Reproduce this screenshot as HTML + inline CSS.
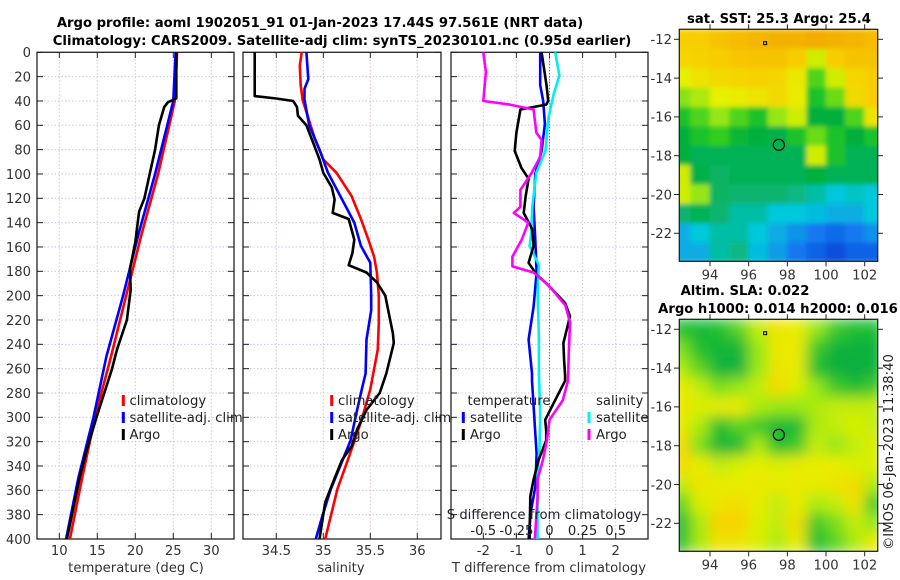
<!DOCTYPE html>
<html><head><meta charset="utf-8"><style>
html,body{margin:0;padding:0;background:#fff}
svg{display:block;font-family:"DejaVu Sans","Liberation Sans",sans-serif}
</style></head><body>
<svg id="fig" width="900" height="580" viewBox="0 0 900 580" xmlns="http://www.w3.org/2000/svg">
<defs>
<filter id="blur1" x="0" y="0" width="1" height="1"><feGaussianBlur stdDeviation="2.5" edgeMode="duplicate"/></filter>
<filter id="blur2" x="0" y="0" width="1" height="1"><feGaussianBlur stdDeviation="7" edgeMode="duplicate"/></filter>
<clipPath id="clipM1"><rect x="679" y="29" width="199" height="232"/></clipPath>
<clipPath id="clipM2"><rect x="679" y="319" width="199" height="232"/></clipPath>
</defs>
<text x="320" y="27" text-anchor="middle" font-size="13.2" font-weight="bold">Argo profile: aoml 1902051_91 01-Jan-2023 17.44S 97.561E (NRT data)</text>
<text x="342" y="45" text-anchor="middle" font-size="13.2" font-weight="bold">Climatology: CARS2009. Satellite-adj clim: synTS_20230101.nc (0.95d earlier)</text>
<g id="g"></g>
<text x="779" y="23" text-anchor="middle" font-size="13.2" font-weight="bold">sat. SST: 25.3 Argo: 25.4</text>
<text x="745" y="295" text-anchor="middle" font-size="13.2" font-weight="bold">Altim. SLA: 0.022</text>
<text x="778" y="313" text-anchor="middle" font-size="13.2" font-weight="bold">Argo h1000: 0.014 h2000: 0.016</text>
<text transform="translate(893,452) rotate(-90)" text-anchor="middle" font-size="13.2" fill="#222">©IMOS 06-Jan-2023 11:38:40</text>
</svg>
<script>
// ---------- data ----------
const depthTicks = [0,20,40,60,80,100,120,140,160,180,200,220,240,260,280,300,320,340,360,380,400];
const tempTicks = [10,15,20,25,30];
const salTicks = [34.5,35,35.5,36];
const tdiffTicks = [-2,-1,0,1,2];
const tdiffLabels = ["-2","-1","0","1","2"];
const sdiffTicks = [-0.5,-0.25,0,0.25,0.5];
const sdiffLabels = ["-0.5","-0.25","0","0.25","0.5"];
const lonTicks = [94,96,98,100,102];
const latTicks = [-12,-14,-16,-18,-20,-22];

const climTDepth = [0,40,100,150,200,250,300,350,400];
const climT = [25.5,25.2,23.0,20.8,18.8,16.8,14.7,13.0,11.4];
const satTDepth = [0,40,100,150,200,250,300,350,400];
const satT = [25.3,25.0,22.6,20.4,18.4,16.2,14.5,12.5,10.9];
const argoTDepth = [0,38,41,45,60,80,100,120,131,156,178,195,220,244,261,300,327,349,400];
const argoT = [25.4,25.4,24.3,23.8,23.1,22.6,21.9,21.2,20.5,20.0,19.3,19.4,18.9,17.6,16.9,14.9,13.6,12.7,11.0];

const climSDepth = [0,11,27,39,49,71,88,99,118,137,154,168,181,200,222,244,277,304,331,359,400];
const climS = [34.77,34.75,34.76,34.78,34.82,34.91,35.0,35.14,35.3,35.4,35.48,35.54,35.57,35.59,35.59,35.58,35.5,35.4,35.28,35.15,35.02];
const satSDepth = [0,22,30,39,60,80,99,118,140,159,173,200,212,236,264,277,294,319,340,359,381,400];
const satS = [34.82,34.84,34.8,34.8,34.85,34.96,35.05,35.18,35.33,35.4,35.5,35.51,35.51,35.46,35.45,35.41,35.36,35.29,35.18,35.08,34.99,34.92];
const argoSDepth = [0,36,38,40,45,52,60,74,88,99,111,121,132,137,154,165,175,181,189,200,212,231,239,264,280,294,310,324,335,350,370,400];
const argoS = [34.27,34.27,34.5,34.68,34.72,34.73,34.82,34.89,34.96,35.0,35.09,35.12,35.1,35.27,35.33,35.31,35.27,35.46,35.57,35.66,35.69,35.74,35.75,35.67,35.6,35.46,35.36,35.3,35.2,35.12,35.02,34.96];

const dSatTDepth = [0,27,40,59,81,100,127,154,181,209,236,264,270,330,357,380,400];
const dSatT = [-0.28,-0.28,-0.19,-0.14,-0.24,-0.43,-0.48,-0.43,-0.39,-0.48,-0.63,-0.53,-0.53,-0.39,-0.43,-0.58,-0.63];
const dArgoTDepth = [0,27,40,43,47,66,81,95,104,118,132,145,159,173,183,190,206,217,239,253,266,270,286,302,311,319,335,351,365,400];
const dArgoT = [-0.24,-0.09,-0.04,-0.1,-0.88,-1.0,-1.05,-0.85,-0.63,-0.72,-0.78,-0.53,-0.48,-0.63,-0.38,-0.09,0.47,0.62,0.42,0.44,0.47,0.47,0.17,-0.13,-0.1,-0.1,-0.33,-0.48,-0.58,-0.6];
const dSatSDepth = [0,19,35,54,81,99,127,151,159,175,195,236,264,297,324,346,400];
const dSatS = [0.043,0.075,0.03,-0.008,-0.03,-0.1,-0.13,-0.14,-0.15,-0.08,-0.09,-0.08,-0.08,-0.07,-0.075,-0.09,-0.09];
const dArgoSDepth = [0,16,40,43,47,66,72,86,100,113,127,132,140,154,168,176,181,192,208,222,249,270,286,302,319,335,351,365,400];
const dArgoS = [-0.5,-0.48,-0.5,-0.3,-0.12,-0.1,-0.06,-0.07,-0.14,-0.22,-0.22,-0.27,-0.16,-0.21,-0.28,-0.28,-0.12,-0.003,0.12,0.155,0.145,0.14,0.1,0.0,-0.02,-0.05,-0.09,-0.09,-0.11];

const mapLons = [92.5,93.5,94.5,95.5,96.5,97.5,98.5,99.5,100.5,101.5,102.5];
const mapLats = [-12,-13,-14,-15,-16,-17,-18,-19,-20,-21,-22,-23];
const sstGrid = [
[.85,.85,.88,.9,.92,.93,.93,.95,.93,.92,.9],
[.82,.83,.85,.87,.88,.88,.85,.7,.85,.88,.88],
[.72,.77,.8,.82,.83,.82,.75,.6,.7,.82,.85],
[.64,.67,.72,.74,.77,.8,.74,.55,.62,.8,.85],
[.55,.6,.65,.6,.55,.65,.7,.5,.5,.6,.77],
[.5,.55,.58,.52,.5,.48,.55,.62,.55,.5,.55],
[.5,.45,.45,.45,.45,.45,.45,.7,.55,.45,.45],
[.7,.48,.42,.45,.45,.45,.45,.5,.45,.45,.45],
[.7,.65,.42,.4,.4,.4,.38,.35,.3,.32,.3],
[.4,.45,.4,.35,.35,.3,.3,.28,.25,.25,.3],
[.25,.3,.35,.35,.3,.25,.2,.15,.12,.15,.2],
[.25,.25,.35,.38,.28,.22,.15,.1,.05,.1,.1]];
const slaGrid = [
[.3,.25,.3,.4,.6,.75,.7,.5,.35,.3,.3],
[.45,.3,.2,.2,.5,.72,.7,.35,.15,.15,.15],
[.55,.4,.15,.15,.5,.75,.7,.3,.15,.1,.15],
[.7,.6,.45,.5,.6,.8,.65,.5,.35,.3,.35],
[.75,.65,.7,.72,.55,.5,.5,.55,.6,.6,.6],
[.7,.55,.3,.4,.35,.2,.25,.55,.6,.65,.6],
[.8,.45,.2,.25,.55,.3,.35,.6,.5,.6,.65],
[.8,.7,.6,.65,.7,.65,.7,.7,.7,.65,.65],
[.6,.75,.7,.7,.72,.7,.72,.7,.75,.8,.55],
[.4,.65,.75,.78,.7,.6,.7,.55,.6,.75,.35],
[.25,.55,.85,.85,.65,.6,.8,.35,.45,.6,.5],
[.3,.55,.75,.75,.65,.55,.7,.3,.4,.55,.7]];
const argoLon = [97.56];
const argoLat = [-17.44];

// ---------- helpers ----------
const NS="http://www.w3.org/2000/svg";
const G=document.getElementById('g');
function mk(tag,attrs,parent){const e=document.createElementNS(NS,tag);for(const k in attrs)e.setAttribute(k,attrs[k]);(parent||G).appendChild(e);return e;}
function lin(d0,d1,r0,r1){return v=>r0+(v-d0)*(r1-r0)/(d1-d0);}
const yDep = lin(0,400,52.3,539);
const P1={x0:37,x1:234,sx:lin(10,30,59.3,211.3)};
const P2={x0:243,x1:441,sx:lin(34.5,36,276.3,417.3)};
const P3={x0:451,x1:648,sx:lin(-2,2,483.3,615.7)};
const sdx = lin(-0.5,0.5,483.3,615.7);
const FS=13.2;

function panel(P,name,xt,leftLabels){
  const grp=mk('g',{});
  
  
  depthTicks.forEach(d=>{const y=yDep(d);
    const gl=mk('line',{x1:P.x0,x2:P.x1,y1:y,y2:y,stroke:'#c4c8ec','stroke-width':1,'stroke-dasharray':'1.5,2'},grp);
    
    mk('line',{x1:P.x0,x2:P.x0+6,y1:y,y2:y,stroke:'#222'},grp);
    mk('line',{x1:P.x1-6,x2:P.x1,y1:y,y2:y,stroke:'#222'},grp);
    if(leftLabels){const t=mk('text',{x:31,y:y+4.8,'text-anchor':'end','font-size':FS,fill:'#333'},grp);t.textContent=d;
      }
  });
  xt.forEach(v=>{const x=P.sx(v);
    const gl=mk('line',{x1:x,x2:x,y1:52.3,y2:539,stroke:'#d8c4d8','stroke-width':1,'stroke-dasharray':'1.5,2'},grp);
    
    mk('line',{x1:x,x2:x,y1:539,y2:533,stroke:'#222'},grp);
    mk('line',{x1:x,x2:x,y1:52.3,y2:58,stroke:'#222'},grp);
  });
  const fr=mk('rect',{x:P.x0,y:52.3,width:P.x1-P.x0,height:539-52.3,fill:'none',stroke:'#222','stroke-width':1.3},grp);
  
}
function series(P,xs,vals,deps,color,name){
  let d='';vals.forEach((v,i)=>{d+=(i?'L':'M')+xs(v).toFixed(1)+','+yDep(deps[i]).toFixed(1);});
  const p=mk('path',{d:d,fill:'none',stroke:color,'stroke-width':2.6,'stroke-linejoin':'round'});
  
  
}
function txt(x,y,s,opts,name){const t=mk('text',Object.assign({x:x,y:y,'font-size':FS,fill:'#222'},opts||{}));t.textContent=s;
  return t;}
function legendEntry(mx,tx,y,color,label,name){
  const m=mk('rect',{x:mx-1.5,y:y-10,width:3,height:11,fill:color});
  
  txt(tx,y,label,{fill:'#222'},name);
}

// ---------- panel 1 temperature ----------
panel(P1,'temperature-panel',tempTicks,true);
series(P1,P1.sx,climT,climTDepth,'#ff0000','climatology-temperature-line');
series(P1,P1.sx,satT,satTDepth,'#0000ff','satellite-temperature-line');
series(P1,P1.sx,argoT,argoTDepth,'#000000','argo-temperature-line');
tempTicks.forEach(v=>txt(P1.sx(v),555,String(v),{'text-anchor':'middle',fill:'#333'},'temperature-tick-label'));
txt(136,572,'temperature (deg C)',{'text-anchor':'middle',fill:'#333'},'temperature-axis-title');
legendEntry(123.3,129.5,405,'#ff0000','climatology','legend-climatology');
legendEntry(123.3,129.5,422,'#0000ff','satellite-adj. clim','legend-satellite-adj');
legendEntry(123.3,129.5,439,'#000000','Argo','legend-argo');

// ---------- panel 2 salinity ----------
panel(P2,'salinity-panel',salTicks,false);
series(P2,P2.sx,climS,climSDepth,'#ff0000','climatology-salinity-line');
series(P2,P2.sx,satS,satSDepth,'#0000ff','satellite-salinity-line');
series(P2,P2.sx,argoS,argoSDepth,'#000000','argo-salinity-line');
salTicks.forEach(v=>txt(P2.sx(v),555,String(v),{'text-anchor':'middle',fill:'#333'},'salinity-tick-label'));
txt(341,572,'salinity',{'text-anchor':'middle',fill:'#333'},'salinity-axis-title');
legendEntry(331.7,338,405,'#ff0000','climatology','legend-climatology-2');
legendEntry(331.7,338,422,'#0000ff','satellite-adj. clim','legend-satellite-adj-2');
legendEntry(331.7,338,439,'#000000','Argo','legend-argo-2');

// ---------- panel 3 differences ----------
panel(P3,'difference-panel',tdiffTicks,false);
const z=mk('line',{x1:P3.sx(0),x2:P3.sx(0),y1:52.3,y2:539,stroke:'#555','stroke-width':1,'stroke-dasharray':'1,2'});

series(P3,P3.sx,dSatT,dSatTDepth,'#0000ff','satellite-temperature-diff-line');
series(P3,sdx,dSatS,dSatSDepth,'#00f0f0','satellite-salinity-diff-line');
series(P3,P3.sx,dArgoT,dArgoTDepth,'#000000','argo-temperature-diff-line');
series(P3,sdx,dArgoS,dArgoSDepth,'#ff00ff','argo-salinity-diff-line');
tdiffTicks.forEach((v,i)=>txt(P3.sx(v),555,tdiffLabels[i],{'text-anchor':'middle',fill:'#333'},'tdiff-tick-label'));
txt(549,572,'T difference from climatology',{'text-anchor':'middle',fill:'#333'},'tdiff-axis-title');
sdiffTicks.forEach((v,i)=>txt(sdx(v),535,sdiffLabels[i],{'text-anchor':'middle',fill:'#222'},'sdiff-tick-label'));
txt(544,519,'S difference from climatology',{'text-anchor':'middle',fill:'#222'},'sdiff-axis-title');
txt(509,405,'temperature',{'text-anchor':'middle'},'legend-temperature-heading');
txt(596,405,'salinity',{},'legend-salinity-heading');
legendEntry(463.3,470,422,'#0000ff','satellite','legend-temp-satellite');
legendEntry(463.3,470,439,'#000000','Argo','legend-temp-argo');
legendEntry(589,596,422,'#00f0f0','satellite','legend-sal-satellite');
legendEntry(589,596,439,'#ff00ff','Argo','legend-sal-argo');

// ---------- maps ----------
function cmap(stops,v){v=Math.max(0,Math.min(1,v));
  for(let i=1;i<stops.length;i++){if(v<=stops[i][0]){const a=stops[i-1],b=stops[i],t=(v-a[0])/(b[0]-a[0]);
    const c=[0,1,2].map(k=>Math.round(a[1][k]+(b[1][k]-a[1][k])*t));return 'rgb('+c.join(',')+')';}}
  return 'rgb('+stops[stops.length-1][1].join(',')+')';}
const sstStops=[[0,[0,60,210]],[0.15,[20,120,240]],[0.3,[0,200,220]],[0.4,[10,180,110]],[0.5,[0,176,60]],[0.58,[50,205,30]],[0.65,[150,230,20]],[0.72,[230,240,0]],[0.85,[248,205,0]],[1,[240,155,0]]];
const slaStops=[[0,[0,165,70]],[0.3,[30,190,50]],[0.5,[150,232,20]],[0.68,[230,240,0]],[0.85,[248,210,0]],[1,[240,160,40]]];
function map(top,grid,stops,filt,clip,name){
  const mx=lin(94,102,710,864.7), my=lin(-12,-22,top+10,top+204);
  const grp=mk('g',{});
  
  const cg=mk('g',{'clip-path':'url(#'+clip+')'},grp);
  const ig=mk('g',{filter:'url(#'+filt+')'},cg);
  grid.forEach((row,r)=>row.forEach((v,c)=>{
    const x=mx(mapLons[c]-0.5), y=my(mapLats[r]+0.5);
    const cell=mk('rect',{x:x-0.3,y:y-0.3,width:mx(mapLons[c]+0.5)-x+0.6,height:my(mapLats[r]-0.5)-y+0.6,fill:cmap(stops,v)},ig);
    
    
  }));
  const fr=mk('rect',{x:679.3,y:top,width:198.4,height:232,fill:'none',stroke:'#222','stroke-width':1.3},grp);
  
  lonTicks.forEach(v=>{const x=mx(v);mk('line',{x1:x,x2:x,y1:top+232,y2:top+237,stroke:'#222'},grp);
    mk('line',{x1:x,x2:x,y1:top,y2:top-5,stroke:'#222'},grp);
    txt(x,top+250,String(v),{'text-anchor':'middle',fill:'#333'},'lon-tick-label');});
  latTicks.forEach(v=>{const y=my(v);mk('line',{x1:679.3,x2:674,y1:y,y2:y,stroke:'#222'},grp);
    mk('line',{x1:877.7,x2:883,y1:y,y2:y,stroke:'#222'},grp);
    txt(672,y+4.8,String(v),{'text-anchor':'end',fill:'#333'},'lat-tick-label');});
  argoLon.forEach((lo,i)=>{const c=mk('circle',{cx:mx(lo),cy:my(argoLat[i]),r:5.5,fill:'none',stroke:'#000','stroke-width':1.2},grp);
    });
  mk('rect',{x:mx(96.85)-1.5,y:my(-12.2)-1.5,width:3,height:3,fill:'none',stroke:'#000','stroke-width':1},grp);
}
map(29.3,sstGrid,sstStops,'blur1','clipM1','sst-map');
map(319.3,slaGrid,slaStops,'blur2','clipM2','sla-map');
</script>
</body></html>
